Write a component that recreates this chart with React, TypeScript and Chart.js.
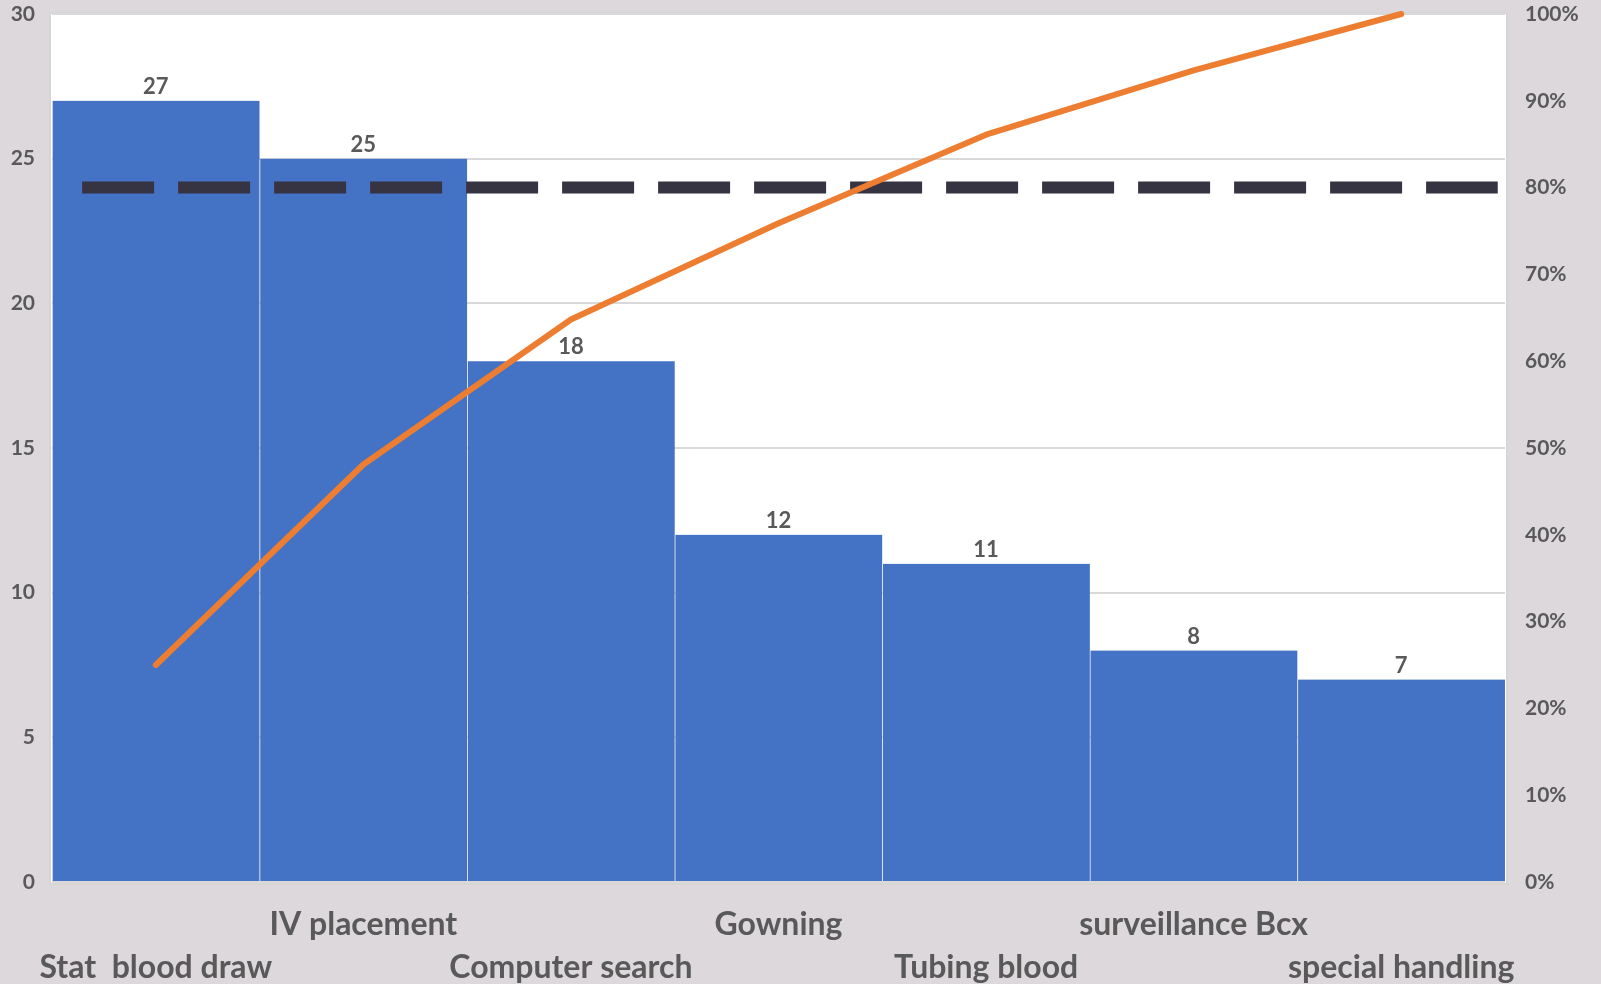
import { useEffect, useRef } from "react";
import { Chart, registerables } from "chart.js";

Chart.register(...registerables);

// Pareto data: defect counts per cause, sorted descending
const categories = [
  "Stat  blood draw",
  "IV placement",
  "Computer search",
  "Gowning",
  "Tubing blood",
  "surveillance Bcx",
  "special handling",
];
const counts = [27, 25, 18, 12, 11, 8, 7];
const cumulativePct = [25.0, 48.1, 64.8, 75.9, 86.1, 93.5, 100];

// 80% threshold line; its span is given in category units
// relative to the first category's centre
const thresholdPct = 80;
const thresholdSpan = [-0.355, 6.465];

const countTicks = { min: 0, max: 30, step: 5 };
const pctTicks = { min: 0, max: 100, step: 10 };

const TEXT = "#595959";
const FONT = "Lato, 'Open Sans', sans-serif";

const plotBackground = {
  id: "plotBackground",
  beforeDraw(chart: any) {
    const { ctx, chartArea: a } = chart;
    ctx.save();
    ctx.fillStyle = "#ffffff";
    ctx.fillRect(a.left - 2, a.top - 1, a.right - a.left + 4, a.bottom - a.top + 3);
    ctx.strokeStyle = "#d6d6d6";
    ctx.lineWidth = 2;
    ctx.strokeRect(a.left - 2, a.top - 1, a.right - a.left + 4, a.bottom - a.top + 3);
    ctx.restore();
  },
};

// Dashed 80% line, drawn above the bars and below the cumulative line
const thresholdLine = {
  id: "thresholdLine",
  beforeDatasetDraw(chart: any, args: any) {
    if (args.index !== 0) return;
    const { ctx, scales } = chart;
    const x = scales.x;
    const c0 = x.getPixelForValue(0);
    const step = x.getPixelForValue(1) - c0;
    const y = scales.yPct.getPixelForValue(thresholdPct);
    ctx.save();
    ctx.strokeStyle = "#363343";
    ctx.lineWidth = 12;
    ctx.lineCap = "butt";
    ctx.setLineDash([72, 24]);
    ctx.beginPath();
    ctx.moveTo(c0 + thresholdSpan[0] * step, y);
    ctx.lineTo(c0 + thresholdSpan[1] * step, y);
    ctx.stroke();
    ctx.restore();
  },
};

const barValueLabels = {
  id: "barValueLabels",
  afterDatasetsDraw(chart: any) {
    const { ctx } = chart;
    const meta = chart.getDatasetMeta(1);
    ctx.save();
    ctx.fillStyle = TEXT;
    ctx.font = `bold 22px ${FONT}`;
    ctx.textAlign = "center";
    ctx.textBaseline = "middle";
    meta.data.forEach((bar: any, i: number) => {
      ctx.fillText(String(counts[i]), bar.x, bar.y - 14);
    });
    ctx.restore();
  },
};

// Fixed axis widths, without the extra label padding above/below the plot
const fitVertical = (width: number) => (s: any) => {
  s.width = width;
  s.paddingTop = 0;
  s.paddingBottom = 0;
};

export default function App() {
  const canvasRef = useRef<HTMLCanvasElement | null>(null);

  useEffect(() => {
    document.body.style.margin = "0";
    const canvas = canvasRef.current;
    if (!canvas) return;

    const chart = new Chart(canvas, {
      type: "bar",
      data: {
        labels: categories,
        datasets: [
          {
            type: "line",
            label: "Cumulative %",
            data: cumulativePct,
            yAxisID: "yPct",
            borderColor: "#ED7D31",
            borderWidth: 6,
            borderCapStyle: "round",
            borderJoinStyle: "round",
            pointRadius: 0,
            tension: 0,
            clip: false,
            order: 0,
          } as any,
          {
            type: "bar",
            label: "Count",
            data: counts,
            yAxisID: "yCount",
            backgroundColor: "#4472C4",
            borderColor: "rgba(255,255,255,0.22)",
            borderWidth: { left: 1, right: 0, top: 0, bottom: 0 },
            borderSkipped: false,
            categoryPercentage: 1,
            barPercentage: 1,
            order: 1,
          } as any,
        ],
      },
      options: {
        animation: false,
        responsive: true,
        maintainAspectRatio: false,
        layout: { padding: { top: 14, left: 0, right: 0, bottom: 0 } },
        plugins: {
          legend: { display: false },
          tooltip: { enabled: false },
        },
        scales: {
          x: {
            type: "category",
            offset: true,
            grid: { display: false, drawTicks: false },
            border: { display: false },
            afterFit: (s: any) => {
              s.height = 102;
              s.paddingLeft = 0;
              s.paddingRight = 0;
            },
            ticks: {
              autoSkip: false,
              maxRotation: 0,
              minRotation: 0,
              padding: 21,
              color: TEXT,
              font: { family: FONT, size: 32, weight: "bold", lineHeight: 1.34 },
              callback: function (this: any, value: any, index: number) {
                const label = this.getLabelForValue(value);
                return index % 2 === 0 ? ["", label] : [label, ""];
              },
            },
          },
          yCount: {
            type: "linear",
            position: "left",
            min: countTicks.min,
            max: countTicks.max,
            afterFit: fitVertical(52),
            ticks: {
              stepSize: countTicks.step,
              padding: 17,
              color: TEXT,
              font: { family: FONT, size: 21, weight: "bold" },
            },
            grid: { color: "#d9d9d9", lineWidth: 2, drawTicks: false },
            border: { display: false },
          },
          yPct: {
            type: "linear",
            position: "right",
            min: pctTicks.min,
            max: pctTicks.max,
            afterFit: fitVertical(96),
            ticks: {
              stepSize: pctTicks.step,
              padding: 20,
              color: TEXT,
              font: { family: FONT, size: 21, weight: "bold" },
              callback: (v: any) => `${v}%`,
            },
            grid: { display: false, drawTicks: false },
            border: { display: false },
          },
        },
      },
      plugins: [plotBackground, thresholdLine, barValueLabels],
    });

    return () => chart.destroy();
  }, []);

  return (
    <div
      style={{
        position: "absolute",
        left: 0,
        top: 0,
        width: 1601,
        height: 984,
        background: "#dcd8dc",
      }}
    >
      <canvas ref={canvasRef} />
    </div>
  );
}
